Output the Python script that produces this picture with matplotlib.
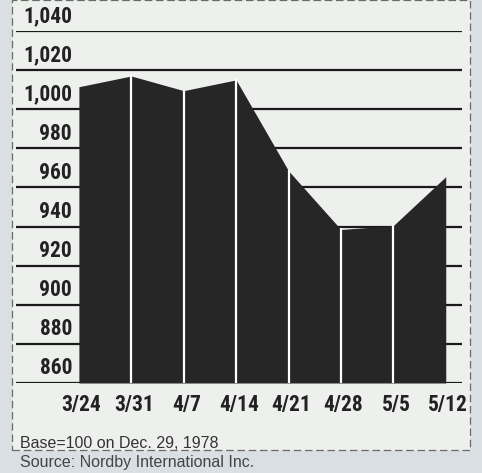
import matplotlib
matplotlib.use("Agg")
import matplotlib.pyplot as plt
from matplotlib.patches import Rectangle

# weekly index values (base=100 on Dec. 29, 1978)
dates = ["3/24", "3/31", "4/7", "4/14", "4/21", "4/28", "5/5", "5/12"]
values = [1011.5, 1017, 1009.5, 1015, 968.5, 938.5, 940.5, 965.5]
yticks = [860, 880, 900, 920, 940, 960, 980, 1000, 1020, 1040]
ytick_labels = ["860", "880", "900", "920", "940", "960", "980", "1,000", "1,020", "1,040"]

W, H = 482, 473
FONT = ["Roboto Condensed", "DejaVu Sans"]
NOTE_FONT = ["Liberation Sans", "DejaVu Sans"]

fig = plt.figure(figsize=(W / 100, H / 100), dpi=100)
fig.patch.set_facecolor("#d9dfe2")

# light panel inside the dashed box
fig.patches.append(Rectangle((12 / W, 1 - 450 / H), 458 / W, 450 / H,
                             transform=fig.transFigure, facecolor="#eef0ee",
                             edgecolor="#6a6a6a", lw=0.9, ls=(0, (6, 3)), zorder=-5))

ax = fig.add_axes([16 / W, 1 - 383 / H, 446 / W, 352 / H])
ax.set_zorder(2)
ax.set_facecolor("none")
ax.set_xlim(-1.2, 7.31)
ax.set_ylim(860, 1040)
for s in ax.spines.values():
    s.set_visible(False)
ax.set_xticks([])
ax.set_yticks([])

x = list(range(len(dates)))

# gridlines with labels sitting on top of them
for v, lab in zip(yticks, ytick_labels):
    ax.axhline(v, color="#1a1a1a", lw=1.6, zorder=1)
    ax.text(-0.13, v + 1.8, lab, ha="right", va="bottom", fontsize=15.5,
            fontweight="bold", family=FONT, color="#222222")

ax.fill_between(x, 860, values, color="#262626", lw=0, zorder=2)
for xi, v in zip(x[1:-1], values[1:-1]):
    ax.plot([xi, xi], [860, v], color="white", lw=1.6, zorder=3)

for xi, lab in zip(x, dates):
    ax.text(xi + 0.05, 848.5, lab, ha="center", va="center", fontsize=15.5,
            fontweight="bold", family=FONT, color="#222222", clip_on=False)

fig.text(20 / W, 1 - 443 / H, "Base=100 on Dec. 29, 1978", ha="left", va="center",
         fontsize=11.5, family=NOTE_FONT, color="#333333")
fig.text(20 / W, 1 - 462 / H, "Source: Nordby International Inc.", ha="left", va="center",
         fontsize=11.5, family=NOTE_FONT, color="#444444")

fig.savefig("out.png", dpi=100, facecolor=fig.get_facecolor())
